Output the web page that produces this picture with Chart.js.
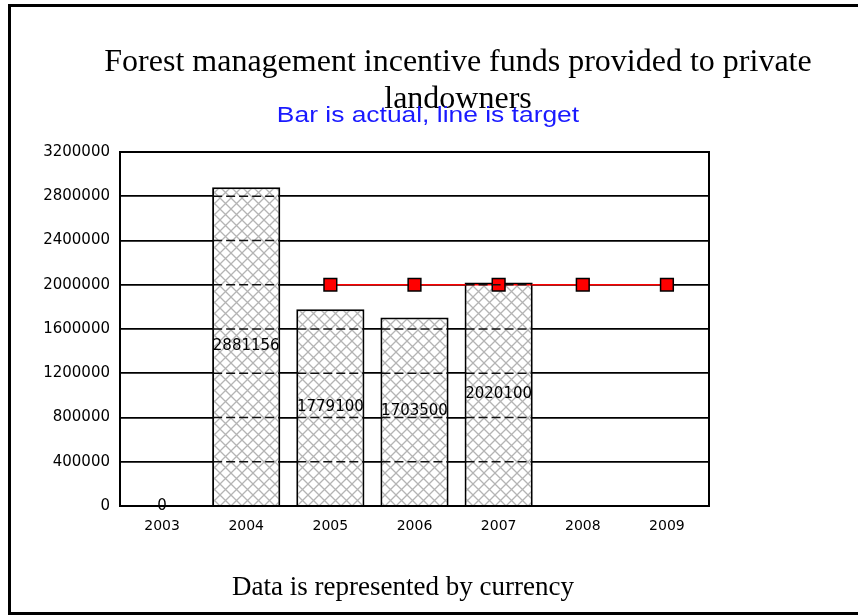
<!DOCTYPE html>
<html>
<head>
<meta charset="utf-8">
<script src="https://cdn.jsdelivr.net/npm/chart.js@4.4.1/dist/chart.umd.min.js"></script>
<style>
  html, body { margin: 0; padding: 0; background: #fff; }
  #wrap { position: relative; width: 858px; height: 615px; overflow: hidden; }
  #frame {
    position: absolute; left: 8px; top: 4px; width: 900px; height: 605px;
    border-left: 3px solid #000; border-top: 3px solid #000; border-bottom: 3px solid #000;
  }
  #chart { position: absolute; left: 0; top: 0; }
  .txt { position: absolute; white-space: nowrap; text-align: center; }
  #title { left: 58px; width: 800px; top: 42px; font: 32px "Liberation Serif", "Times New Roman", serif; line-height: 37px; color: #000; }
  #subtitle { left: 28px; width: 800px; top: 102px; font: 22px "Liberation Sans", Arial, sans-serif; color: #1a1aff; transform: scaleX(1.2); }
  #footer { left: 3px; width: 800px; top: 571px; font: 27px "Liberation Serif", "Times New Roman", serif; color: #000; }
</style>
</head>
<body>
<div id="wrap">
  <div id="frame"></div>
  <canvas id="chart" width="858" height="615"></canvas>
  <div class="txt" id="title">Forest management incentive funds provided to private<br>landowners</div>
  <div class="txt" id="subtitle">Bar is actual, line is target</div>
  <div class="txt" id="footer">Data is represented by currency</div>
</div>
<script>
// data
const years = ['2003', '2004', '2005', '2006', '2007', '2008', '2009'];
const actual = [0, 2881156, 1779100, 1703500, 2020100, null, null];
const target = [null, null, 2000000, 2000000, 2000000, 2000000, 2000000];
const yTicks = [0, 400000, 800000, 1200000, 1600000, 2000000, 2400000, 2800000, 3200000];

// grey cross hatch for the bars
function makeHatch() {
  const n = 11;
  const c = document.createElement('canvas');
  c.width = n; c.height = n;
  const g = c.getContext('2d');
  g.fillStyle = '#fff';
  g.fillRect(0, 0, n, n);
  g.strokeStyle = '#b4b4b4';
  g.lineWidth = 1.3;
  g.beginPath();
  g.moveTo(0, 0); g.lineTo(n, n);
  g.moveTo(n, 0); g.lineTo(0, n);
  g.stroke();
  return g.createPattern(c, 'repeat');
}

// dashed grid lines across the bars, the plot frame and the value labels
const barExtras = {
  id: 'barExtras',
  afterDatasetsDraw(chart) {
    const ctx = chart.ctx;
    const y = chart.scales.y;
    const meta = chart.getDatasetMeta(1);
    ctx.save();
    ctx.strokeStyle = '#111';
    ctx.lineWidth = 1.6;
    ctx.setLineDash([9, 4]);
    meta.data.forEach((bar, i) => {
      if (actual[i] == null) return;
      const half = bar.width / 2;
      yTicks.forEach(t => {
        if (t <= 0 || t >= actual[i]) return;
        const py = y.getPixelForValue(t);
        ctx.beginPath();
        ctx.moveTo(bar.x - half + 1, py);
        ctx.lineTo(bar.x + half - 1, py);
        ctx.stroke();
      });
    });
    ctx.restore();
    const a = chart.chartArea;
    ctx.save();
    ctx.lineWidth = 2;
    ctx.strokeStyle = '#000';
    ctx.strokeRect(a.left, a.top, a.right - a.left, a.bottom - a.top);
    ctx.restore();
  },
  afterDraw(chart) {
    const ctx = chart.ctx;
    const meta = chart.getDatasetMeta(1);
    ctx.save();
    ctx.font = '15px "DejaVu Sans", sans-serif';
    ctx.fillStyle = '#000';
    ctx.textAlign = 'center';
    ctx.textBaseline = 'middle';
    meta.data.forEach((bar, i) => {
      if (actual[i] == null) return;
      ctx.fillText(String(actual[i]), bar.x, (bar.y + bar.base) / 2);
    });
    ctx.restore();
  }
};

const ctx = document.getElementById('chart').getContext('2d');
new Chart(ctx, {
  data: {
    labels: years,
    datasets: [{
      type: 'line',
      label: 'Target',
      data: target,
      borderColor: '#ff0000',
      borderWidth: 1.5,
      pointStyle: 'rect',
      pointRadius: 9,
      pointBackgroundColor: '#ff0000',
      pointBorderColor: '#000',
      pointBorderWidth: 1.5,
      order: 0
    }, {
      type: 'bar',
      label: 'Actual',
      data: actual,
      backgroundColor: makeHatch(),
      borderColor: '#000',
      borderWidth: 2,
      categoryPercentage: 0.81,
      barPercentage: 1,
      order: 1
    }]
  },
  options: {
    responsive: false,
    animation: false,
    layout: { padding: { left: 20, right: 149, top: 152, bottom: 79 } },
    plugins: {
      legend: { display: false },
      tooltip: { enabled: false }
    },
    scales: {
      x: {
        grid: { display: false, drawTicks: false },
        border: { display: false },
        ticks: { color: '#000', font: { family: 'DejaVu Sans', size: 14 }, padding: 12, maxRotation: 0 },
        afterFit(scale) { scale.height = 30; }
      },
      y: {
        min: 0,
        max: 3200000,
        grid: { color: '#000', lineWidth: 1.8, drawTicks: false },
        border: { display: false },
        ticks: {
          stepSize: 400000,
          color: '#000',
          font: { family: 'DejaVu Sans', size: 15 },
          padding: 10,
          callback: v => String(v)
        },
        afterFit(scale) { scale.width = 100; }
      }
    }
  },
  plugins: [barExtras]
});
</script>
</body>
</html>
